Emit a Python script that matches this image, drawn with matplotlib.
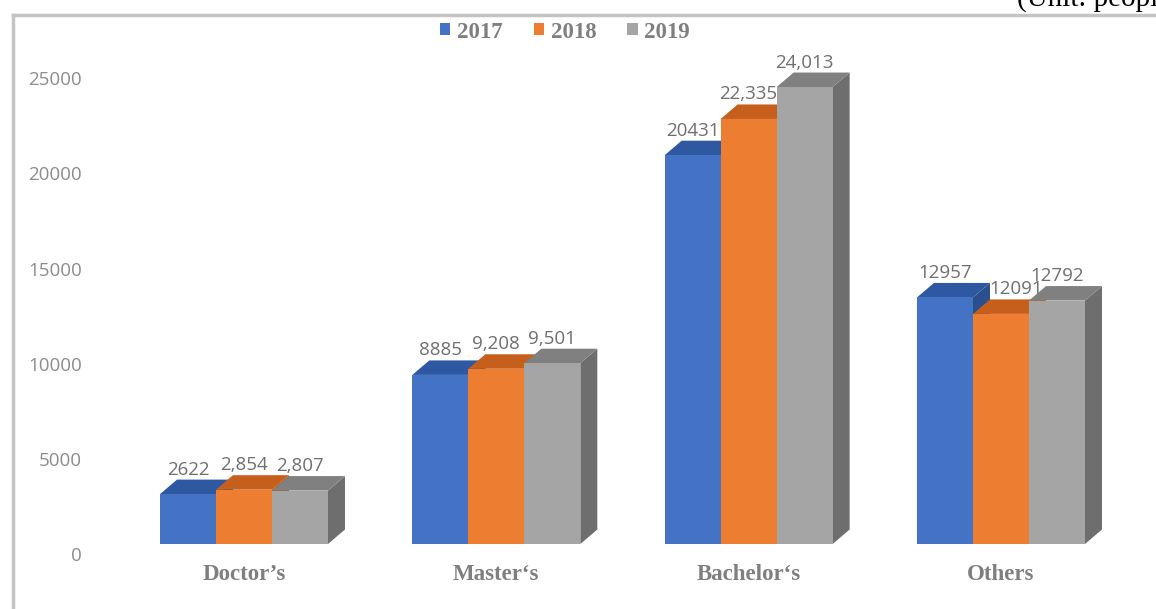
import matplotlib
matplotlib.use("Agg")
import matplotlib.pyplot as plt
from matplotlib.patches import Polygon, Patch
from matplotlib.lines import Line2D
from matplotlib.transforms import offset_copy, blended_transform_factory

categories = ["Doctor’s", "Master‘s", "Bachelor‘s", "Others"]
years = ["2017", "2018", "2019"]
vals_2017 = [2622, 8885, 20431, 12957]
vals_2018 = [2854, 9208, 22335, 12091]
vals_2019 = [2807, 9501, 24013, 12792]
# which data labels are printed with a thousands separator
comma_2017 = [False, False, False, False]
comma_2018 = [True, True, True, False]
comma_2019 = [True, True, True, False]
yticks = [0, 5000, 10000, 15000, 20000, 25000]

series = [vals_2017, vals_2018, vals_2019]
commas = [comma_2017, comma_2018, comma_2019]

front = ["#4472C4", "#ED7D31", "#A5A5A5"]
top = ["#2F58A3", "#C65F1C", "#808080"]
side = ["#2B4E8C", "#B0541A", "#6E6E6E"]

W, H = 1156, 609
fig = plt.figure(figsize=(W / 100, H / 100), dpi=100)
ax = fig.add_axes([0, 0, 1, 1])
ax.set_axis_off()

# pixel layout of the plot: group spacing, zero line, value scale
x0_px, step_px = 244, 252.33
zero_px, per_unit = 544, 0.01903
ax.set_xlim(-x0_px / step_px, (W - x0_px) / step_px)
ax.set_ylim((zero_px - H) / per_unit, zero_px / per_unit)

bw = 56 / step_px          # bar width
dx = 17 / step_px          # depth offset to the right
dy = 14.5 / per_unit       # depth offset upwards

# the 2018 "Others" label is pushed right, next to the taller 2017 bar
label_shift = {(1, 3): 15}

grey_txt = "#6f6f6f"
for s, vals in enumerate(series):
    z = 2 + s
    xs = [g + (s - 1) * bw for g in range(len(categories))]
    for x, v in zip(xs, vals):
        l, r = x - bw / 2, x + bw / 2
        ax.add_patch(Polygon([(r, 0), (r + dx, dy), (r + dx, v + dy), (r, v)],
                             closed=True, fc=side[s], ec="none", zorder=z))
        ax.add_patch(Polygon([(l, v), (r, v), (r + dx, v + dy), (l + dx, v + dy)],
                             closed=True, fc=top[s], ec="none", zorder=z))
    ax.bar(xs, vals, width=bw, color=front[s], zorder=z)
    for g, (x, v) in enumerate(zip(xs, vals)):
        txt = f"{v:,}" if commas[s][g] else f"{v}"
        tr = offset_copy(ax.transData, fig=fig, x=label_shift.get((s, g), 0),
                         y=1, units="dots")
        ax.text(x, v + dy, txt, transform=tr, ha="center", va="bottom",
                fontsize=13.5, family="Open Sans", color=grey_txt, zorder=z + 0.5)

# value axis labels sit a little lower than the front faces
ytrans = offset_copy(blended_transform_factory(ax.transAxes, ax.transData),
                     fig=fig, y=-12, units="dots")
for t in yticks:
    ax.text(82 / W, t, str(t), transform=ytrans, ha="right", va="center",
            fontsize=13.5, family="Open Sans", color="#8c8c8c")

xtrans = blended_transform_factory(ax.transData, ax.transAxes)
for g, name in enumerate(categories):
    ax.text(g, (H - 574) / H, name, transform=xtrans, ha="center",
            va="center", fontsize=16.5, fontweight="bold",
            family="Liberation Serif", color="#7f7f7f")

handles = [Patch(facecolor=c, edgecolor="none") for c in front]
leg = ax.legend(handles, years, loc="center", bbox_to_anchor=(565 / W, 1 - 32 / H),
                ncol=3, frameon=False, handlelength=0.45, handleheight=0.45,
                handletextpad=0.3, columnspacing=1.35,
                prop={"family": "Liberation Serif", "weight": "bold", "size": 16.5})
for t in leg.get_texts():
    t.set_color("#7f7f7f")

# chart frame (top and left edges)
fx, fy = 13 / W, 1 - 15 / H
fig.add_artist(Line2D([fx, 1], [fy, fy], transform=fig.transFigure,
                      color="#c4c4c4", lw=2.5))
fig.add_artist(Line2D([fx, fx], [0, fy], transform=fig.transFigure,
                      color="#c4c4c4", lw=2.5))

fig.text(1017 / W, 1 - 6 / H, "(Unit: people)", ha="left", va="baseline",
         fontsize=21, family="Liberation Serif", color="black")

fig.savefig("out.png", dpi=100)
